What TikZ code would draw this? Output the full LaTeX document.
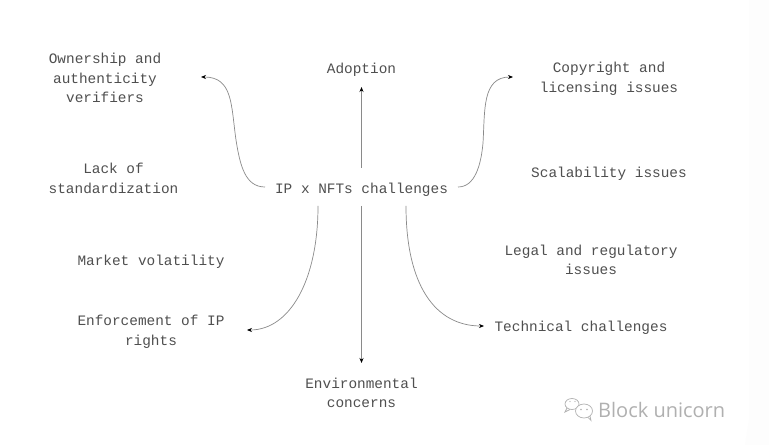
\documentclass[tikz,border=0pt]{standalone}
\usepackage{fontspec}
\setmainfont{Liberation Mono}
\newfontfamily\wmfont{Open Sans}
\definecolor{txt}{HTML}{4F4F4F}
\definecolor{lne}{HTML}{8A8A8A}
\definecolor{wm}{HTML}{B0B0B0}
\usetikzlibrary{arrows.meta}
\tikzset{
  lbl/.style={font=\fontsize{14.4bp}{19.6bp}\selectfont, text=txt, align=center, inner sep=0pt},
  conn/.style={draw=lne, line width=0.7bp, -{Stealth[length=5bp,width=4bp,black]}},
  wmline/.style={draw=wm, line width=0.7bp}
}
\begin{document}
\begin{tikzpicture}[x=1bp,y=-1bp]
\useasboundingbox (0,0) rectangle (769,445);
\fill[white] (0,0) rectangle (769,445);
\fill[black!0.8] (749,0) -- (769,0) -- (769,445) -- (745,445) -- (749,420) -- cycle;
\node[lbl] (center) at (361.5,190) {IP x NFTs challenges};
\node[lbl] (own) at (105,78) {Ownership and\\authenticity\\verifiers};
\node[lbl] (adopt) at (361.5,69.5) {Adoption};
\node[lbl] (copy) at (609,79) {Copyright and\\licensing issues};
\node[lbl] (lack) at (113.5,178.5) {Lack of\\standardization};
\node[lbl] (scal) at (609,173.5) {Scalability issues};
\node[lbl] (mark) at (151,261.5) {Market volatility};
\node[lbl] (legal) at (591,260) {Legal and regulatory\\issues};
\node[lbl] (enf) at (151,332) {Enforcement of IP\\rights};
\node[lbl] (tech) at (581,328) {Technical challenges};
\node[lbl] (env) at (361.5,393) {Environmental\\concerns};
\coordinate (cl) at (265,187);
\coordinate (cr) at (458,187);
\coordinate (cu) at (361.5,168);
\coordinate (cd) at (361.5,206);
\coordinate (cdl) at (318,206);
\coordinate (cdr) at (406,206);
\coordinate (e1) at (201,77);
\coordinate (e2) at (513,77);
\coordinate (e3) at (361.5,87);
\coordinate (e4) at (361.5,363);
\coordinate (e5) at (247,330);
\coordinate (e6) at (484,326);
\draw[conn] (cl) .. controls (245,187) and (240,165) .. (236,140) .. controls (231,105) and (233,77) .. (e1);
\draw[conn] (cr) .. controls (475,187) and (481,165) .. (483,143) .. controls (485,110) and (482,77) .. (e2);
\draw[conn] (cu) -- (e3);
\draw[conn] (cd) -- (e4);
\draw[conn] (cdl) .. controls (318,280) and (290,330) .. (e5);
\draw[conn] (cdr) .. controls (406,285) and (435,326) .. (e6);
\node[font=\wmfont\fontsize{20bp}{20bp}\selectfont, text=wm, anchor=west, inner sep=0pt] (wmk) at (598,410) {Block unicorn};
\draw[wmline] (572,404) ellipse (7 and 5.5);
\filldraw[wmline, fill=white] (584,411) ellipse (8.5 and 7);
\fill[wm] (581,409.5) circle (0.8) (587,409.5) circle (0.8) (570,401.5) circle (0.7) (575,401.5) circle (0.7);
\draw[wmline] (567,408) -- (565,412) -- (570,409.5);
\draw[wmline] (588,417.5) -- (591,420.5) -- (590,416);
\end{tikzpicture}
\end{document}
